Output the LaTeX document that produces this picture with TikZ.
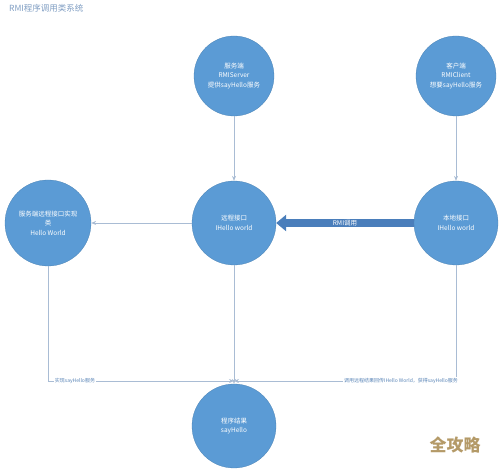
\documentclass[tikz,border=0pt]{standalone}
\usepackage{fontspec}
\setmainfont{Noto Sans CJK SC}
\usetikzlibrary{arrows.meta}
\definecolor{circfill}{HTML}{5B9BD5}
\definecolor{thinline}{HTML}{A9BCD4}
\definecolor{thickline}{HTML}{4A7EBB}
\definecolor{titlecol}{HTML}{7F9DC2}
\definecolor{labcol}{HTML}{5B86B8}
\definecolor{wmcol}{HTML}{B49A68}
\tikzset{
  circnode/.style={circle, fill=circfill, draw=circfill!85!black, line width=0.3pt, text=white, align=center, font=\fontsize{6.5}{9.5}\selectfont, inner sep=0pt},
  thin/.style={draw=thinline, line width=0.7pt, -{Stealth[length=5pt,width=4pt]}},
  lab/.style={font=\fontsize{5}{6}\selectfont, text=labcol, fill=white, inner sep=1pt}
}
\begin{document}
\begin{tikzpicture}[x=1pt,y=1pt]
\useasboundingbox (0,0) rectangle (500,470);
\node[anchor=west, text=titlecol, font=\fontsize{8.5}{9}\selectfont, inner sep=0pt] (title) at (9,462) {RMI程序调用类系统};
\node[circnode, minimum size=80pt] (srv) at (234,394) {服务端\\RMIServer\\提供sayHello服务};
\node[circnode, minimum size=80pt] (cli) at (456,394) {客户端\\RMIClient\\想要sayHello服务};
\node[circnode, minimum size=86pt] (impl) at (48,247) {服务端远程接口实现\\类\\Hello World};
\node[circnode, minimum size=84pt] (rem) at (234,247) {远程接口\\IHello world};
\node[circnode, minimum size=84pt] (loc) at (456,247) {本地接口\\IHello world};
\node[circnode, minimum size=84pt] (res) at (234,44) {程序结果\\sayHello};
\coordinate (jn) at (234,89);
\draw[thin] (srv) -- (rem);
\draw[thin] (cli) -- (loc);
\draw[thin] (rem) -- (impl);
\draw[thin] (rem) -- (res);
\draw[thin] (impl.south) |- (jn);
\draw[thin] (loc.south) |- (jn);
\draw[draw=thickline, line width=8pt, -{Triangle[length=10pt,width=16pt]}] (loc.west) -- (rem.east);
\node[text=white, font=\fontsize{6.5}{7}\selectfont] (rmi) at (345,247) {RMI调用};
\node[lab] (l1) at (75,89) {实现sayHello服务};
\node[lab] (l2) at (401,89) {调用远程结果回传IHello World，获得sayHello服务};
\node[text=wmcol, font=\bfseries\fontsize{17}{18}\selectfont] (wm) at (455,25) {全攻略};
\end{tikzpicture}
\end{document}
